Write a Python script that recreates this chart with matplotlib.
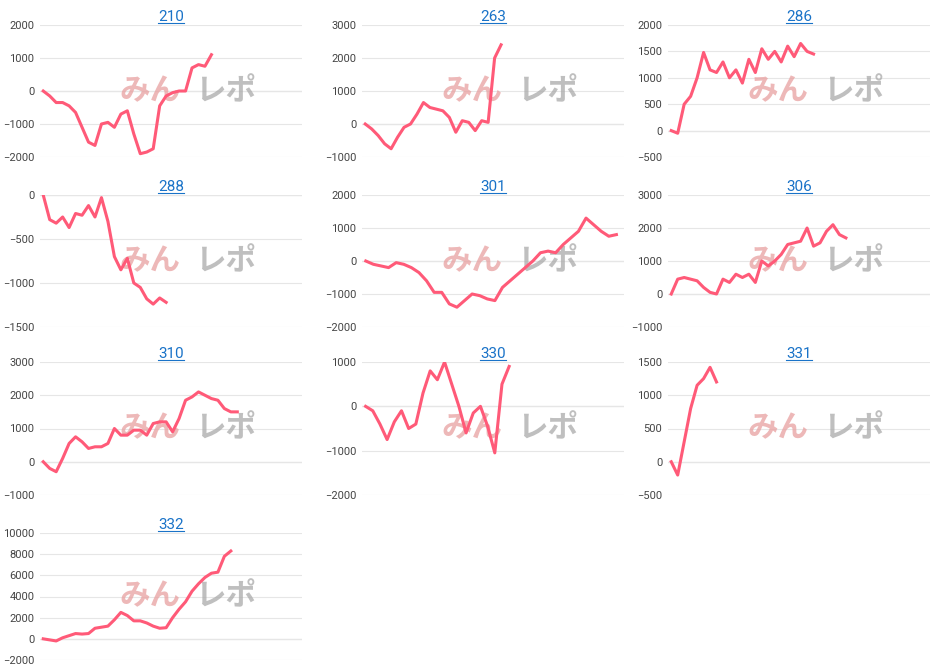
import matplotlib
matplotlib.use("Agg")
import matplotlib.pyplot as plt
from matplotlib.font_manager import FontProperties

plt.rcParams['font.family'] = ['Roboto', 'DejaVu Sans']

titles = ["210", "263", "286", "288", "301", "306", "310", "330", "331", "332"]

d210 = [0, -150, -350, -350, -450, -650, -1100, -1550, -1650, -1000, -950, -1100, -700, -600,
        -1300, -1900, -1850, -1750, -450, -150, -50, 0, 0, 700, 800, 750, 1100]
d263 = [0, -150, -350, -600, -750, -400, -100, 0, 300, 650, 500, 450, 400, 200, -250, 100, 50,
        -200, 100, 50, 2000, 2400]
d286 = [0, -50, 500, 650, 1000, 1480, 1150, 1100, 1300, 1000, 1150, 900, 1350, 1100, 1550, 1350,
        1500, 1300, 1600, 1400, 1650, 1500, 1450]
d288 = [0, -280, -320, -250, -370, -210, -230, -120, -250, -30, -300, -700, -850, -720, -1000,
        -1050, -1180, -1240, -1170, -1220]
d301 = [0, -100, -150, -200, -50, -100, -200, -350, -600, -950, -950, -1300, -1400, -1200, -1000,
        -1050, -1150, -1200, -800, -600, -400, -200, 0, 250, 300, 250, 500, 700, 900, 1300, 1100,
        900, 750, 800]
d306 = [0, 450, 500, 450, 400, 200, 50, 0, 450, 350, 600, 500, 600, 350, 1000, 850, 1000, 1200,
        1500, 1550, 1600, 2000, 1450, 1550, 1900, 2100, 1800, 1700]
d310 = [0, -200, -300, 100, 550, 750, 600, 400, 450, 450, 550, 1000, 800, 800, 950, 950, 800, 1150,
        1200, 1200, 900, 1300, 1850, 1950, 2100, 2000, 1900, 1850, 1600, 1500, 1500]
d330 = [0, -100, -400, -750, -350, -100, -500, -400, 300, 800, 600, 1000, 500, 0, -600, -150, 0,
        -450, -1050, 500, 900]
d331 = [0, -200, 300, 800, 1150, 1250, 1420, 1200]
d332 = [0, -100, -200, 100, 300, 500, 450, 500, 1000, 1100, 1200, 1800, 2500, 2200, 1700, 1700,
        1500, 1200, 1000, 1050, 2000, 2800, 3500, 4500, 5200, 5800, 6200, 6300, 7800, 8300]
series = [d210, d263, d286, d288, d301, d306, d310, d330, d331, d332]

yranges = [(-2000, 2000, 1000), (-1000, 3000, 1000), (-500, 2000, 500), (-1500, 0, 500),
           (-2000, 2000, 1000), (-1000, 3000, 1000), (-1000, 3000, 1000), (-2000, 1000, 1000),
           (-500, 1500, 500), (-2000, 10000, 2000)]
xmax = [40, 40, 40, 40, 34, 40, 40, 36, 40, 40]

W, H = 940, 668
fig = plt.figure(figsize=(9.4, 6.68), dpi=100)
col_left = [40, 362, 668]
col_w = 262
rows = [(25, 157), (195, 327), (362, 495), (533, 660)]

for i, (t, d) in enumerate(zip(titles, series)):
    r, c = divmod(i, 3)
    top, bot = rows[r]
    ax = fig.add_axes([col_left[c] / W, 1 - bot / H, col_w / W, (bot - top) / H])
    lo, hi, step = yranges[i]
    ax.set_ylim(lo, hi)
    ax.set_yticks(range(lo, hi + 1, step))
    ax.set_xlim(-0.5, xmax[i])
    ax.plot(range(len(d)), d, color='#ff5a78', lw=2.2, zorder=3)
    ax.grid(axis='y', color='#e6e6e6', lw=0.8)
    ax.axhline(0, color='#bbbbbb', lw=0.8, zorder=1)
    for s in ax.spines.values():
        s.set_visible(False)
    ax.set_xticks([])
    ax.tick_params(axis='y', length=0, labelsize=8, colors='#444444', pad=4)
    ax.set_title(t, color='#1a73c8', pad=3, fontproperties=FontProperties(family='Roboto', size=11))
    # watermark
    ax.text(0.42, 0.5, "みん", transform=ax.transAxes, fontsize=22, color='#e8a0a0', alpha=0.75,
            family=['Noto Sans CJK JP'], fontweight='bold', style='italic', ha='center', va='center', zorder=2)
    ax.text(0.71, 0.5, "レポ", transform=ax.transAxes, fontsize=22, color='#aaaaaa', alpha=0.75,
            family=['Noto Sans CJK JP'], fontweight='bold', style='italic', ha='center', va='center', zorder=2)

# underline the titles like links
fig.canvas.draw()
for ax in list(fig.axes):
    bb = ax.title.get_window_extent()
    y = (bb.y0 + 1) / H
    fig.add_artist(plt.Line2D([bb.x0 / W, bb.x1 / W], [y, y], color='#1a73c8', lw=0.8))

fig.savefig("out.png", dpi=100, facecolor='white')
